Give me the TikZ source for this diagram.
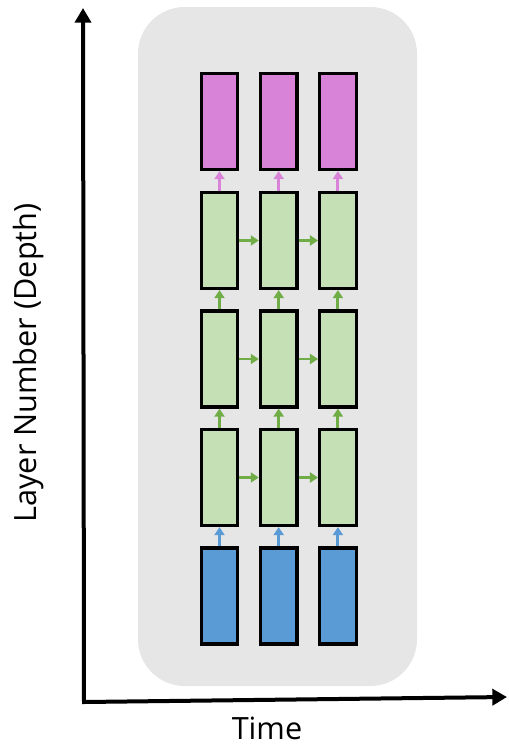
\documentclass[tikz,border=0pt]{standalone}
\usepackage{fontspec}
\setmainfont{Open Sans}
\usetikzlibrary{arrows.meta}
\definecolor{panel}{HTML}{E6E6E6}
\definecolor{outc}{HTML}{D883D8}
\definecolor{hidc}{HTML}{C5E0B4}
\definecolor{hida}{HTML}{70AD47}
\definecolor{inc}{HTML}{5B9BD5}

\begin{document}
\begin{tikzpicture}[x=0.75pt,y=-0.75pt,
  cell/.style={draw=black,line width=2.4pt,minimum width=27.5pt,minimum height=72pt,inner sep=0pt},
  link/.style={line width=2.2pt,-{Triangle[width=7.5pt,length=6pt]}},
  axis/.style={line width=3pt,{Triangle[width=12pt,length=11pt]}-{Triangle[width=12pt,length=11pt]}},
  lab/.style={font=\fontsize{23}{27}\selectfont}]
  \useasboundingbox (0,0) rectangle (508,746);
  \fill[panel,rounded corners=35pt] (138,7) rectangle (417,686);
  % five rows of cells, three time steps each
  \foreach \r/\y/\c in {out/121.5/outc,h3/240.5/hidc,h2/359/hidc,h1/477.5/hidc,in/596/inc}
    \foreach \i in {1,2,3}
      \node[cell,fill=\c] (\r-\i) at ({219.5+59.2*(\i-1)},\y) {};
  \foreach \i in {1,2,3}{
    \draw[link,inc] (in-\i.north) -- (h1-\i.south);
    \draw[link,hida] (h1-\i.north) -- (h2-\i.south);
    \draw[link,hida] (h2-\i.north) -- (h3-\i.south);
    \draw[link,outc] (h3-\i.north) -- (out-\i.south);
  }
  \foreach \r in {h1,h2,h3}{
    \draw[link,hida] (\r-1.east) -- (\r-2.west);
    \draw[link,hida] (\r-2.east) -- (\r-3.west);
  }
  % axes
  \coordinate (ytip) at (83,8);
  \coordinate (org) at (84,702);
  \coordinate (xtip) at (507,697);
  \draw[axis] (ytip) -- (org) -- (xtip);
  \node[lab,rotate=90] (ylab) at (29,363) {Layer Number (Depth)};
  \node[lab,anchor=base] (xlab) at (267,739) {Time};
\end{tikzpicture}
\end{document}
